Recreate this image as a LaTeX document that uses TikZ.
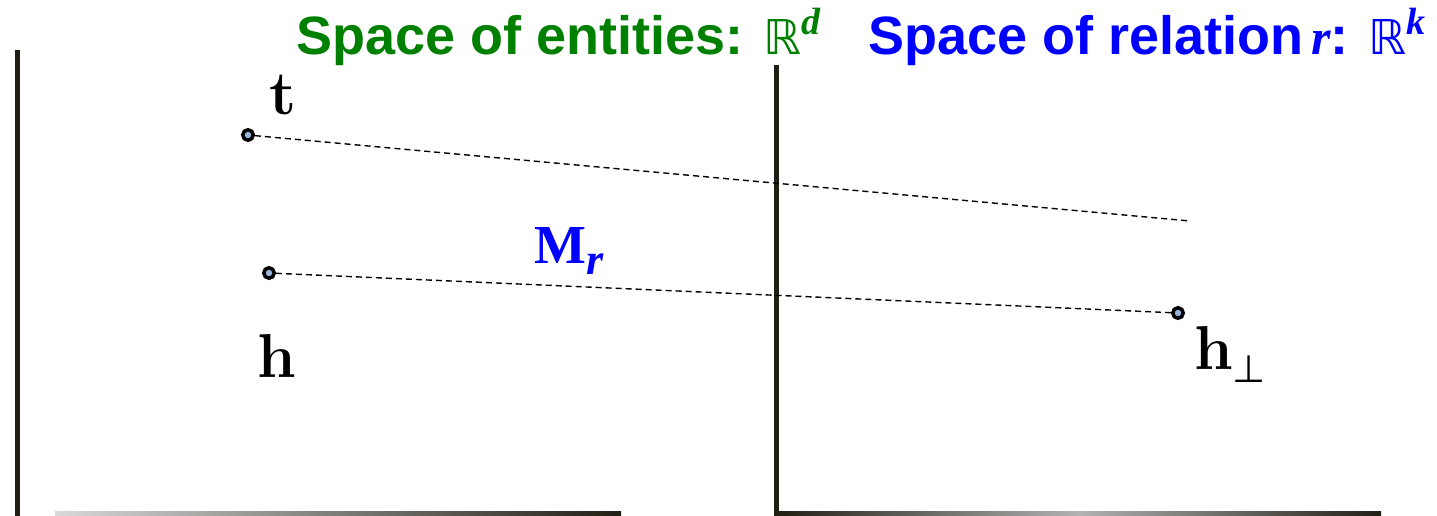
\documentclass[tikz,border=0pt]{standalone}
\usepackage{fontspec}
\newfontfamily\titlefont{Liberation Sans}
\newfontfamily\dsfont{DejaVu Sans}
\newfontfamily\bifont{Liberation Serif}
\definecolor{titlegreen}{RGB}{0,128,0}
\definecolor{titleblue}{RGB}{0,0,255}
\definecolor{axiscol}{RGB}{33,30,20}
\definecolor{dotfill}{RGB}{150,180,220}
\newcommand{\dsR}{{\dsfont\mdseries\upshape\fontsize{48}{48}\selectfont ℝ}}
\newcommand{\supvar}[1]{\raisebox{20pt}{\bifont\bfseries\itshape\fontsize{38}{38}\selectfont #1}}
\newcommand{\ivar}[2]{{\bifont\bfseries\itshape\fontsize{#1}{#1}\selectfont #2}}
\tikzset{
  axisline/.style={line width=5pt, draw=axiscol},
  dotnode/.style={circle, draw=black, line width=3.5pt, fill=dotfill, inner sep=0pt, minimum size=10.5pt},
  projline/.style={dash pattern=on 6pt off 4pt, line width=1.4pt, draw=black},
  titlenode/.style={anchor=base west, inner sep=0pt, font=\titlefont\bfseries\fontsize{54}{60}\selectfont},
  biglabel/.style={inner sep=0pt, anchor=base, font=\bfseries\fontsize{62}{66}\selectfont},
}
\begin{document}
\begin{tikzpicture}[x=1pt,y=-1pt]
\useasboundingbox (0,0) rectangle (1437,516);
\fill[white] (0,0) rectangle (1437,516);
% axes
\coordinate (lv1) at (17,50);
\coordinate (lv2) at (17,516);
\coordinate (rv1) at (776,65);
\coordinate (rv2) at (776,516);
\draw[axisline] (lv1) -- (lv2);
\draw[axisline] (rv1) -- (rv2);
\shade[left color=gray!30, right color=axiscol] (55,511) rectangle (621,516);
\shade[left color=axiscol, right color=axiscol, middle color=gray!60] (776,511) rectangle (1381,516);
% titles
\node[titlenode, text=titlegreen] (title1) at (296,55) {Space of entities: \dsR\supvar{d}};
\node[titlenode, text=titleblue] (title2) at (868,55) {Space of relation\hspace{8pt}\ivar{50}{r}: \dsR\supvar{k}};
% points
\node[dotnode] (t) at (248,135) {};
\node[dotnode] (h) at (269,273) {};
\node[dotnode] (hp) at (1178,313) {};
\coordinate (tend) at (1190,221);
% dashed projections
\draw[projline] (t) -- (tend);
\draw[projline] (h) -- (hp);
% labels
\node[biglabel] (tlab) at (283,115) {t};
\node[biglabel] (hlab) at (277,377) {h};
\node[biglabel, anchor=base west] (hplab) at (1194,369) {h\raisebox{-13pt}{\dsfont\mdseries\fontsize{38}{38}\selectfont ⊥}};
\node[inner sep=0pt, anchor=base west, text=titleblue, font=\bifont\bfseries\fontsize{55}{60}\selectfont] (mr) at (534,263) {M\raisebox{-11pt}{\ivar{44}{r}}};
\end{tikzpicture}
\end{document}
